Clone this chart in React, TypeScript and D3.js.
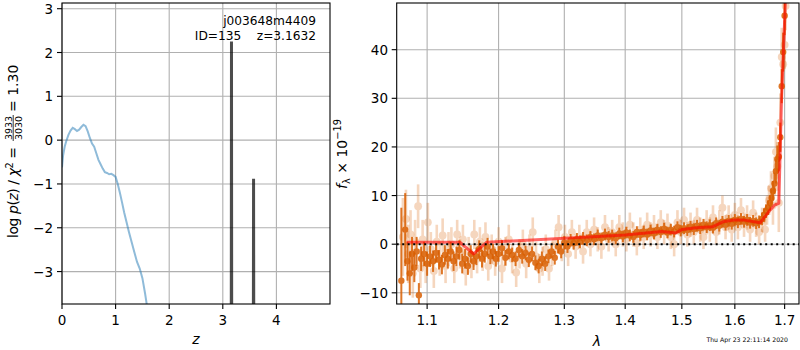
import * as d3 from "d3";

// p(z) curve (blue) and the narrow chi2 spikes (black)
const pzZ = [0, 0.02, 0.05, 0.08, 0.12, 0.16, 0.2, 0.24, 0.28, 0.32, 0.36, 0.4, 0.44, 0.48, 0.52, 0.56, 0.6, 0.64, 0.68, 0.72, 0.76, 0.8, 0.84, 0.88, 0.92, 0.96, 1.0, 1.04, 1.08, 1.12, 1.16, 1.2, 1.25, 1.3, 1.35, 1.4, 1.45, 1.5, 1.55, 1.6];
const pzLog = [-0.62, -0.35, -0.15, -0.02, 0.12, 0.22, 0.28, 0.25, 0.21, 0.24, 0.3, 0.35, 0.32, 0.2, 0.05, -0.08, -0.15, -0.3, -0.45, -0.55, -0.65, -0.73, -0.75, -0.78, -0.77, -0.8, -0.84, -1.0, -1.2, -1.42, -1.65, -1.85, -2.1, -2.33, -2.56, -2.78, -2.93, -3.15, -3.5, -3.9];
const spikeZ = [3.158, 3.162, 3.166, 3.57, 3.574, 3.578];
const spikeLog = [-4.5, 2.25, -4.5, -4.5, -0.88, -4.5];

const zTicks = [0, 1, 2, 3, 4];
const logTicks = [-3, -2, -1, 0, 1, 2, 3];

// spectrum: [wavelength, flux, error]
const darkPts: number[][] = [
  [1.066, -7.5, 15], [1.071, 3.0, 7.5], [1.074, -3.5, 4], [1.077, -6.0, 4.5], [1.08, -2.0, 3.5],
  [1.083, -4.8, 3], [1.086, -1.5, 3], [1.089, -10.5, 2.5], [1.092, -3.0, 2.5], [1.096, -2.0, 2.5],
  [1.1, -4.0, 2.5], [1.104, -2.5, 2.2], [1.108, -3.5, 2.2], [1.112, -1.8, 2], [1.116, -3.2, 2],
  [1.12, -4.2, 2], [1.124, -2.2, 2], [1.128, -3.0, 2], [1.132, -1.5, 2], [1.136, -3.5, 2],
  [1.14, -2.5, 2], [1.144, -1.2, 2], [1.148, -4.0, 2], [1.152, -3.0, 2], [1.156, -4.5, 1.8],
  [1.16, -2.0, 1.8], [1.164, -3.5, 1.8], [1.168, -2.5, 1.8], [1.172, -1.0, 1.8], [1.176, -3.0, 1.8],
  [1.18, -2.0, 1.8], [1.184, -0.5, 1.8], [1.188, -2.5, 1.6], [1.192, -1.5, 1.6], [1.196, -3.0, 1.6],
  [1.2, -2.0, 1.6], [1.205, -0.8, 1.6], [1.21, -2.8, 1.6], [1.215, -1.5, 1.6], [1.22, -2.2, 1.5],
  [1.225, -3.0, 1.5], [1.23, -1.2, 1.5], [1.235, -2.5, 1.5], [1.24, -1.8, 1.5], [1.245, -3.2, 1.5],
  [1.25, -2.0, 1.5], [1.255, -3.8, 1.5], [1.26, -4.5, 1.5], [1.265, -3.0, 1.5], [1.27, -4.0, 1.5],
  [1.275, -2.5, 1.4], [1.28, -1.5, 1.4], [1.285, -2.8, 1.4], [1.29, -0.5, 1.4], [1.295, -1.5, 1.4],
  [1.3, 0.3, 1.4], [1.305, -0.5, 1.3], [1.31, 0.8, 1.3], [1.315, 0.2, 1.3], [1.32, 1.0, 1.3],
  [1.325, 0.5, 1.3], [1.33, 1.2, 1.3], [1.336, 0.8, 1.2], [1.342, 1.5, 1.2], [1.348, 1.0, 1.2],
  [1.354, 1.8, 1.2], [1.36, 1.2, 1.2], [1.366, 2.0, 1.2], [1.372, 1.5, 1.2], [1.378, 1.8, 1.2],
  [1.384, 1.2, 1.2], [1.39, 2.2, 1.2], [1.396, 1.6, 1.2], [1.402, 2.4, 1.2], [1.408, 1.8, 1.2],
  [1.414, 1.5, 1.2], [1.42, 2.5, 1.2], [1.426, 1.9, 1.2], [1.432, 2.6, 1.2], [1.438, 2.0, 1.2],
  [1.444, 2.8, 1.2], [1.45, 2.2, 1.2], [1.456, 3.0, 1.2], [1.462, 2.5, 1.2], [1.468, 3.2, 1.2],
  [1.474, 2.4, 1.2], [1.48, 3.0, 1.2], [1.486, 2.6, 1.2], [1.492, 3.5, 1.2], [1.498, 2.8, 1.2],
  [1.504, 3.3, 1.2], [1.51, 2.9, 1.2], [1.516, 3.6, 1.2], [1.522, 3.1, 1.2], [1.528, 3.8, 1.2],
  [1.534, 3.3, 1.2], [1.54, 4.0, 1.2], [1.546, 3.5, 1.2], [1.552, 3.9, 1.2], [1.558, 3.4, 1.2],
  [1.564, 4.3, 1.2], [1.57, 3.8, 1.2], [1.576, 4.6, 1.2], [1.582, 4.0, 1.2], [1.588, 4.8, 1.2],
  [1.594, 4.2, 1.2], [1.6, 5.0, 1.2], [1.606, 4.5, 1.2], [1.612, 5.2, 1.2], [1.618, 4.6, 1.2],
  [1.624, 5.0, 1.2], [1.63, 4.4, 1.2], [1.636, 4.8, 1.2], [1.642, 4.3, 1.2], [1.648, 4.6, 1.3],
  [1.654, 5.2, 1.3], [1.658, 6.0, 1.4], [1.662, 6.8, 1.4], [1.666, 7.5, 1.5], [1.67, 8.5, 1.6],
  [1.673, 9.5, 1.8], [1.676, 11.0, 2], [1.679, 12.5, 2.2], [1.682, 15.0, 2.5], [1.685, 17.5, 2.8],
  [1.688, 18.0, 3], [1.691, 22.0, 3], [1.694, 32.5, 3.5], [1.697, 39.5, 4], [1.7, 47.0, 4],
];

const lightPts: number[][] = [
  [1.068, 1.5, 8], [1.072, 5.2, 6], [1.075, -2.0, 6], [1.078, 2.0, 5], [1.081, -6.0, 5],
  [1.084, 0.5, 4.5], [1.088, 7.8, 4.5], [1.091, -5.0, 4], [1.094, 1.0, 4], [1.098, -4.0, 4],
  [1.101, 4.5, 4], [1.105, -1.0, 3.5], [1.109, -5.5, 3.5], [1.113, 0.5, 3.5], [1.117, -3.0, 3.5],
  [1.121, 1.8, 3.5], [1.125, -4.5, 3.5], [1.129, -1.0, 3.5], [1.133, 0.0, 3.5], [1.137, -5.0, 3],
  [1.141, 2.0, 3], [1.145, -2.0, 3], [1.149, 1.0, 3], [1.153, -5.5, 3], [1.157, -1.5, 3],
  [1.161, -4.0, 3], [1.165, 2.0, 3], [1.169, -3.0, 3], [1.173, 0.5, 3], [1.177, -2.5, 3],
  [1.181, 1.5, 3], [1.185, -4.5, 3], [1.19, -1.0, 3], [1.195, -3.5, 3], [1.2, 0.5, 3],
  [1.205, -5.0, 3], [1.21, -1.5, 3], [1.215, 1.0, 3], [1.22, -3.0, 3], [1.226, -5.8, 3],
  [1.231, -2.0, 3], [1.236, 0.0, 3], [1.241, -4.0, 3], [1.246, -1.0, 3], [1.251, 2.5, 3],
  [1.256, -2.5, 3], [1.261, -5.0, 3], [1.266, -3.5, 3], [1.271, -1.0, 3], [1.276, -5.0, 2.5],
  [1.281, -2.0, 2.5], [1.286, 0.5, 2.5], [1.291, 3.5, 2.5], [1.296, -1.0, 2.5], [1.301, 1.5, 2.5],
  [1.306, -2.0, 2.5], [1.312, 2.5, 2.5], [1.318, -0.5, 2.5], [1.324, 1.5, 2.5], [1.33, -1.5, 2.5],
  [1.336, 2.5, 2.5], [1.342, 0.0, 2.5], [1.348, 3.0, 2.5], [1.354, 1.0, 2.5], [1.36, -0.5, 2.5],
  [1.366, 3.5, 2.5], [1.372, 1.0, 2.5], [1.378, 2.5, 2.5], [1.384, 0.0, 2.5], [1.39, 3.5, 2.5],
  [1.396, 2.0, 2.5], [1.402, 1.0, 2.5], [1.408, 4.0, 2.5], [1.414, 2.0, 2.5], [1.42, 0.2, 2.5],
  [1.426, 3.0, 2.5], [1.432, 1.5, 2.5], [1.438, 4.0, 2.5], [1.444, 2.0, 2.5], [1.45, 3.5, 2.5],
  [1.456, 1.5, 2.5], [1.462, 4.5, 2.5], [1.468, 2.5, 2.5], [1.474, 3.8, 2.5], [1.48, 1.5, 2.5],
  [1.486, 0.0, 2.5], [1.492, 4.5, 2.5], [1.498, 2.5, 2.5], [1.504, 5.0, 2.5], [1.51, 2.0, 2.5],
  [1.516, 4.0, 2.5], [1.522, 2.5, 2.5], [1.528, 5.0, 2.5], [1.534, 3.0, 2.5], [1.54, 1.5, 2.5],
  [1.546, 4.5, 2.5], [1.552, 3.0, 2.5], [1.558, 5.5, 2.5], [1.564, 2.5, 2.5], [1.57, 4.5, 2.5],
  [1.576, 7.5, 2.5], [1.582, 3.5, 2.5], [1.588, 5.5, 2.5], [1.594, 3.0, 2.5], [1.6, 6.0, 2.5],
  [1.606, 3.5, 2.5], [1.612, 7.0, 2.5], [1.618, 4.0, 2.5], [1.624, 5.5, 2.5], [1.63, 3.0, 2.5],
  [1.636, 6.5, 2.5], [1.642, 4.0, 2.5], [1.648, 2.5, 2.5], [1.654, 5.0, 2.5], [1.66, 3.0, 2.5],
  [1.664, 7.0, 3], [1.668, 9.0, 3], [1.672, 11.5, 3.5], [1.676, 8.0, 4], [1.679, 14.0, 4],
  [1.682, 19.0, 5], [1.685, 16.0, 5], [1.688, 8.5, 6], [1.691, 25.0, 6], [1.694, 38.5, 6],
  [1.697, 37.0, 5], [1.7, 41.0, 5], [1.702, 49.0, 5],
];

const modelWave = [1.0728, 1.1447, 1.164, 1.1825, 1.3, 1.4, 1.464, 1.489, 1.5, 1.527, 1.558, 1.577, 1.6, 1.616, 1.65, 1.67, 1.68, 1.688, 1.6935, 1.702];
const modelFlux = [0.4, 0.4, -2.0, 0.4, 1.2, 1.9, 2.6, 2.3, 3.0, 3.4, 3.6, 4.6, 5.0, 5.0, 4.4, 7.0, 8.1, 8.4, 29.6, 51];

const waveTicks = [1.1, 1.2, 1.3, 1.4, 1.5, 1.6, 1.7];
const fluxTicks = [-10, 0, 10, 20, 30, 40];

const FONT = "DejaVu Sans";
const GRID = "#b0b0b0";
const ORANGE = "#d95f02";

const TOP = 3;
const BOT = 304;

export default function App() {
  // left axes
  const xz = d3.scaleLinear().domain([0, 5]).range([62, 330]);
  const yl = d3.scaleLinear().domain([-3.74, 3.13]).range([BOT, TOP]);
  // right axes
  const xw = d3.scaleLog().domain([1.06, 1.73]).range([396.7, 799]);
  const yf = d3.scaleLinear().domain([-12.3, 49.6]).range([BOT, TOP]);

  const pzLine = d3.line<number>().x((_, i) => xz(pzZ[i])).y((d) => yl(d));
  const spikeLine = d3.line<number>().x((_, i) => xz(spikeZ[i])).y((d) => yl(d));
  const modelLine = d3.line<number>().x((_, i) => xw(modelWave[i])).y((d) => yf(d));

  const errPts = (pts: number[][], color: string, op: number, sw: number, r: number) =>
    pts.map((p, i) => (
      <g key={i} opacity={op}>
        <line x1={xw(p[0])} x2={xw(p[0])} y1={yf(p[1] - p[2])} y2={yf(p[1] + p[2])} stroke={color} strokeWidth={sw} />
        <circle cx={xw(p[0])} cy={yf(p[1])} r={r} fill={color} />
      </g>
    ));

  return (
    <svg width={800} height={350} style={{ position: "absolute", left: 0, top: 0 }} fontFamily={FONT}>
      <rect width={800} height={350} fill="white" />
      <defs>
        <clipPath id="clipL">
          <rect x={62} y={TOP} width={268} height={BOT - TOP} />
        </clipPath>
        <clipPath id="clipR">
          <rect x={396.7} y={TOP} width={402.3} height={BOT - TOP} />
        </clipPath>
      </defs>

      {/* ---------- left panel ---------- */}
      <g>
        {zTicks.map((t) => (
          <line key={t} x1={xz(t)} x2={xz(t)} y1={TOP} y2={BOT} stroke={GRID} strokeWidth={1.1} />
        ))}
        {logTicks.map((t) => (
          <line key={t} x1={62} x2={330} y1={yl(t)} y2={yl(t)} stroke={GRID} strokeWidth={1.1} />
        ))}
        <g clipPath="url(#clipL)">
          <path d={pzLine(pzLog) ?? ""} fill="none" stroke="#1f77b4" strokeOpacity={0.5} strokeWidth={2} />
          <path d={spikeLine(spikeLog) ?? ""} fill="none" stroke="#000" strokeOpacity={0.7} strokeWidth={3} />
        </g>
        <rect x={62} y={TOP} width={268} height={BOT - TOP} fill="none" stroke="#000" strokeWidth={1.1} />
        {zTicks.map((t) => (
          <g key={t}>
            <line x1={xz(t)} x2={xz(t)} y1={BOT} y2={BOT + 5} stroke="#000" strokeWidth={1.1} />
            <text x={xz(t)} y={BOT + 20.5} fontSize={13.5} textAnchor="middle">{t}</text>
          </g>
        ))}
        {logTicks.map((t) => (
          <g key={t}>
            <line x1={57} x2={62} y1={yl(t)} y2={yl(t)} stroke="#000" strokeWidth={1.1} />
            <text x={53} y={yl(t) + 5} fontSize={13.5} textAnchor="end">{t < 0 ? "\u2212" + Math.abs(t) : t}</text>
          </g>
        ))}
        <text x={196} y={344} fontSize={14} fontStyle="italic" textAnchor="middle">z</text>
        <text x={316} y={25} fontSize={12.2} textAnchor="end">j003648m4409</text>
        <text x={316} y={39.5} fontSize={12.2} textAnchor="end" style={{ whiteSpace: "pre" }}>{"ID=135    z=3.1632"}</text>

        <g transform="translate(18,153) rotate(-90)" fontSize={14}>
          <text x={-85} y={0} textLength={91} lengthAdjust="spacing">
            log <tspan fontStyle="italic">p</tspan>(<tspan fontStyle="italic">z</tspan>) / <tspan fontStyle="italic">χ</tspan>
            <tspan fontSize={9.8} dy={-5}>2</tspan>
            <tspan dy={5}> =</tspan>
          </text>
          <text x={25} y={-6.5} fontSize={9.5} textAnchor="middle">3933</text>
          <line x1={12} x2={38} y1={-4.8} y2={-4.8} stroke="#000" strokeWidth={0.8} />
          <text x={25} y={3.8} fontSize={9.5} textAnchor="middle">3030</text>
          <text x={41} y={0}>= 1.30</text>
        </g>
      </g>

      {/* ---------- right panel ---------- */}
      <g>
        {waveTicks.map((t) => (
          <line key={t} x1={xw(t)} x2={xw(t)} y1={TOP} y2={BOT} stroke={GRID} strokeWidth={1.1} />
        ))}
        {fluxTicks.map((t) => (
          <line key={t} x1={396.7} x2={799} y1={yf(t)} y2={yf(t)} stroke={GRID} strokeWidth={1.1} />
        ))}
        <g clipPath="url(#clipR)">
          {errPts(lightPts, ORANGE, 0.25, 2.6, 3.9)}
          {errPts(darkPts, ORANGE, 0.85, 2, 3.2)}
          <path d={modelLine(modelFlux) ?? ""} fill="none" stroke="red" strokeOpacity={0.6} strokeWidth={3} strokeLinejoin="round" />
          <line x1={396.7} x2={799} y1={yf(0)} y2={yf(0)} stroke="#000" strokeWidth={2} strokeDasharray="2,3.5" />
        </g>
        <rect x={396.7} y={TOP} width={402.3} height={BOT - TOP} fill="none" stroke="#000" strokeWidth={1.1} />
        {waveTicks.map((t) => (
          <g key={t}>
            <line x1={xw(t)} x2={xw(t)} y1={BOT} y2={BOT + 5} stroke="#000" strokeWidth={1.1} />
            <text x={xw(t)} y={BOT + 20.5} fontSize={13.5} textAnchor="middle">{t.toFixed(1)}</text>
          </g>
        ))}
        {fluxTicks.map((t) => (
          <g key={t}>
            <line x1={391.7} x2={396.7} y1={yf(t)} y2={yf(t)} stroke="#000" strokeWidth={1.1} />
            <text x={388} y={yf(t) + 5} fontSize={13.5} textAnchor="end">{t < 0 ? "\u2212" + Math.abs(t) : t}</text>
          </g>
        ))}
        <text x={597} y={346} fontSize={14} fontStyle="italic" textAnchor="middle">λ</text>
        <text transform="translate(347,154) rotate(-90)" fontSize={14} textAnchor="middle">
          <tspan fontStyle="italic">f</tspan>
          <tspan fontSize={9.8} dy={3}>λ</tspan>
          <tspan dy={-3}> × 10</tspan>
          <tspan fontSize={9.8} dy={-6}>−19</tspan>
        </text>
        <text x={788} y={342} fontSize={6.2} textAnchor="end">Thu Apr 23 22:11:14 2020</text>
      </g>
    </svg>
  );
}
